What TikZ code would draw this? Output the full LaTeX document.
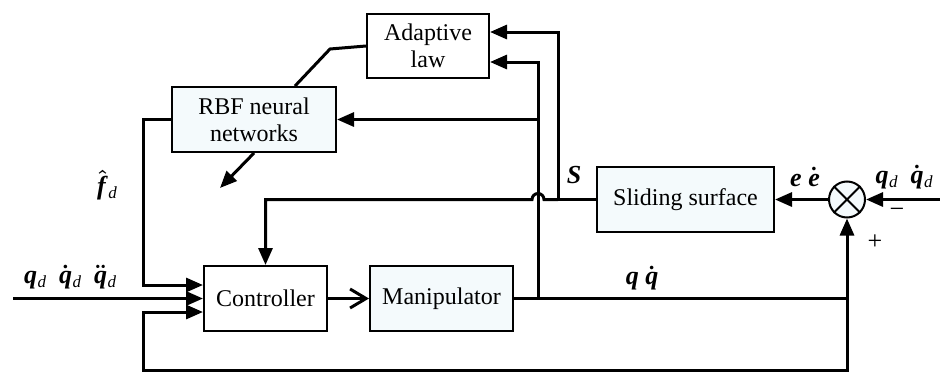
\documentclass[tikz,border=0pt]{standalone}
\usepackage{fontspec}
\setmainfont{Liberation Serif}
\usetikzlibrary{arrows.meta,calc}
\definecolor{boxtint}{HTML}{F4FAFC}
% bold italic vector symbols and their decorations
\newcommand\bv[1]{\textbf{\textit{#1}}}
\newcommand\sdd{\kern0.5pt\raisebox{-4pt}{\fontsize{17}{17}\selectfont\mdseries\itshape d}}
\newcommand\dotb[1]{$\dot{\hbox{\bv{#1}}}$}
\newcommand\ddotb[1]{$\ddot{\hbox{\bv{#1}}}$}
\newcommand\hatb[1]{$\hat{\hbox{\bv{#1}}}$}

\begin{document}
\begin{tikzpicture}[x=1pt,y=-1pt,
  block/.style={draw,line width=2pt,inner sep=0pt,font=\fontsize{24}{27}\selectfont,align=center},
  tinted/.style={block,fill=boxtint},
  wire/.style={line width=3pt},
  tip/.style={wire,-{Triangle[length=17pt,width=14pt]}},
  barb/.style={wire,-{Straight Barb[length=16pt,width=19pt]}},
  sym/.style={inner sep=0pt,font=\fontsize{26}{28}\selectfont\boldmath},
  sign/.style={inner sep=0pt,font=\fontsize{26}{28}\selectfont}]
\useasboundingbox (0,0) rectangle (940,372);

% blocks
\node[block,minimum width=122pt,minimum height=64pt] (adapt) at (428,46) {Adaptive\\law};
\node[tinted,minimum width=164pt,minimum height=65pt] (rbf) at (254,119.5) {RBF neural\\networks};
\node[block,minimum width=123pt,minimum height=65pt] (ctrl) at (265.5,298.5) {Controller};
\node[tinted,minimum width=143pt,minimum height=65pt] (manip) at (441.5,298.5) {Manipulator};
\node[tinted,minimum width=177pt,minimum height=65pt] (slide) at (685.5,199.5) {Sliding surface};
\node[draw,circle,line width=2pt,fill=boxtint,minimum size=36pt,inner sep=0pt] (sum) at (847,199.5) {};
\draw[line width=2pt] (sum.north west) -- (sum.south east) (sum.north east) -- (sum.south west);

% branch points and free ends
\coordinate (jS) at (558,199.5);
\coordinate (jM) at (538,298.5);
\coordinate (sumB) at (847,298.5);
\coordinate (fbL) at (143,370);
\coordinate (qin) at (13,298.5);
\coordinate (qdin) at (940,199.5);
\coordinate (bend) at (330,49);
\coordinate (wt) at (220,188);

% sliding variable S
\draw[wire] (slide.west) -- (jS);
\draw[tip] (jS) |- ([yshift=14pt]adapt.east);
\draw[tip] (jS) -- ($(jM|-jS)+(6,0)$) arc[start angle=0,end angle=180,radius=6pt]
  -- (ctrl.north|-jS) -- (ctrl.north);

% manipulator output q, qdot
\draw[wire] (manip.east) -- (sumB);
\draw[tip] (jM) |- ([yshift=-16pt]adapt.east);
\draw[tip] (jM|-rbf.east) -- (rbf.east);
\draw[tip] (sumB) -- (sum.south);
\draw[tip] (sumB) |- (fbL) |- ([yshift=-13.5pt]ctrl.west);

% controller inputs
\draw[tip] (rbf.west) -- (rbf.west-|fbL) |- ([yshift=13.5pt]ctrl.west);
\draw[tip] (qin) -- (ctrl.west);
\draw[barb] (ctrl.east) -- (manip.west);

% error path
\draw[tip] (qdin) -- (sum.east);
\draw[tip] (sum.west) -- (slide.east);

% weight adaptation
\draw[wire] (adapt.west) -- (bend) -- ([xshift=41pt]rbf.north);
\draw[tip] (rbf.south) -- (wt);

% signal labels
\node[sym] (lq) at (70,277) {\bv{q}\sdd\ \ \dotb{q}\sdd\ \ \ddotb{q}\sdd};
\node[sym] (fh) at (107,185) {\hatb{f}\sdd};
\node[sym] (lS) at (574,175) {\bv{S}};
\node[sym] (lee) at (805,177) {\bv{e}\ \dotb{e}};
\node[sym] (lqd) at (904,177) {\bv{q}\sdd\ \ \dotb{q}\sdd};
\node[sign] (lm) at (897,213) {−};
\node[sign] (lp) at (875,242) {+};
\node[sym] (lqq) at (642,278) {\bv{q}\ \dotb{q}};
\end{tikzpicture}
\end{document}
